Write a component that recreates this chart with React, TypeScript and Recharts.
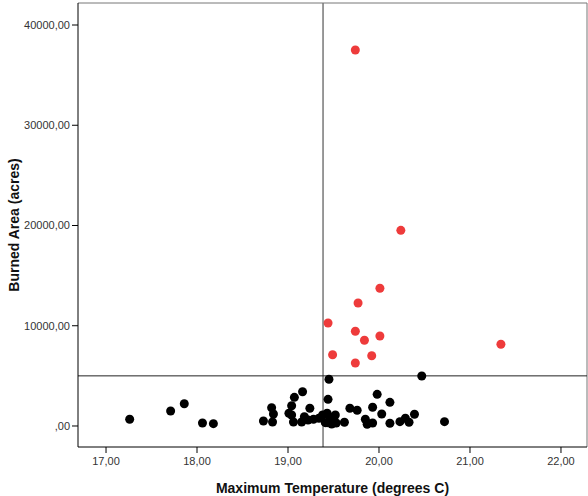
import React from "react";
import {
  ScatterChart,
  Scatter,
  XAxis,
  YAxis,
  ReferenceLine,
} from "recharts";

// Fires with burned area above 5000 acres (red)
const redTemp = [20.24, 20.01, 19.77, 19.44, 19.74, 19.84, 20.01, 21.34, 19.49, 19.92, 19.74, 19.74];
const redArea = [19520, 13735, 12270, 10275, 9446, 8549, 8978, 8150, 7112, 7012, 6284, 37506];

// Fires with burned area below 5000 acres (black)
const blackTemp = [
  17.26, 17.71, 17.86, 18.06, 18.18, 18.73, 18.82, 18.84, 18.83, 19.07,
  19.16, 19.04, 19.01, 19.04, 19.06, 19.24, 19.15, 19.22, 19.28, 19.34,
  19.45, 19.44, 20.47, 19.98, 20.12, 19.68, 19.76, 19.93, 20.03, 20.39,
  20.29, 20.23, 20.33, 19.85, 19.87, 19.93, 20.12, 19.62, 20.72, 19.52,
  19.50, 19.43, 19.38, 19.43, 19.41, 19.18, 19.46, 19.48, 19.53,
];
const blackArea = [
  670, 1500, 2220, 300, 230, 500, 1825, 1200, 400, 2860,
  3420, 2025, 1270, 1100, 400, 1765, 400, 600, 670, 770,
  4660, 2660, 4990, 3160, 2360, 1765, 1566, 1865, 1200, 1170,
  770, 430, 370, 670, 170, 300, 270, 370, 430, 1100,
  670, 1270, 1100, 330, 330, 930, 900, 200, 300,
];

const xTicks = [17, 18, 19, 20, 21, 22];
const yTicks = [0, 10000, 20000, 30000, 40000];
const meanTemp = 19.385;
const areaCut = 5000;
const xDomain: [number, number] = [16.692, 22.286];
const yDomain: [number, number] = [-2095, 42195];

const redData = redTemp.map((t, i) => ({ x: t, y: redArea[i] }));
const blackData = blackTemp.map((t, i) => ({ x: t, y: blackArea[i] }));

const fmt = (v: number) => (v === 0 ? ",00" : `${v},00`);

const tickStyle = { fontFamily: "Liberation Sans, Arial, sans-serif", fontSize: 11, fill: "#333" };
const labelStyle = {
  fontFamily: "Liberation Sans, Arial, sans-serif",
  fontSize: 14,
  fontWeight: "bold" as const,
  fill: "#111",
};

export default function App() {
  return (
    <div style={{ position: "absolute", left: 0, top: 0, width: 588, height: 496, background: "#fff" }}>
      <ScatterChart width={588} height={496} margin={{ top: 3, right: 1, left: 0, bottom: 0 }}>
        <XAxis
          type="number"
          dataKey="x"
          domain={xDomain}
          ticks={xTicks}
          tickFormatter={fmt}
          allowDataOverflow
          height={49}
          tick={tickStyle}
          tickSize={6}
          tickMargin={4}
          stroke="#000"
          tickLine={{ stroke: "#000" }}
          label={{ value: "Maximum Temperature (degrees C)", position: "insideBottom", offset: 3, style: labelStyle }}
        />
        <YAxis
          type="number"
          dataKey="y"
          domain={yDomain}
          ticks={yTicks}
          tickFormatter={fmt}
          allowDataOverflow
          width={78}
          tick={tickStyle}
          tickSize={6}
          tickMargin={2}
          stroke="#000"
          tickLine={{ stroke: "#000" }}
          label={{
            value: "Burned Area (acres)",
            angle: -90,
            position: "insideLeft",
            offset: 14,
            style: { ...labelStyle, textAnchor: "middle" },
          }}
        />
        <ReferenceLine y={yDomain[1]} stroke="#777" strokeWidth={1} ifOverflow="extendDomain" />
        <ReferenceLine x={xDomain[1]} stroke="#777" strokeWidth={1} ifOverflow="extendDomain" />
        <ReferenceLine x={meanTemp} stroke="#777" strokeWidth={1.5} />
        <ReferenceLine y={areaCut} stroke="#222" strokeWidth={1} />
        <Scatter data={blackData} fill="#000" isAnimationActive={false} shape={(p: any) => <circle cx={p.cx} cy={p.cy} r={4.5} fill="#000" />} />
        <Scatter data={redData} fill="#EE3B3B" isAnimationActive={false} shape={(p: any) => <circle cx={p.cx} cy={p.cy} r={4.5} fill="#EE3B3B" />} />
      </ScatterChart>
    </div>
  );
}
